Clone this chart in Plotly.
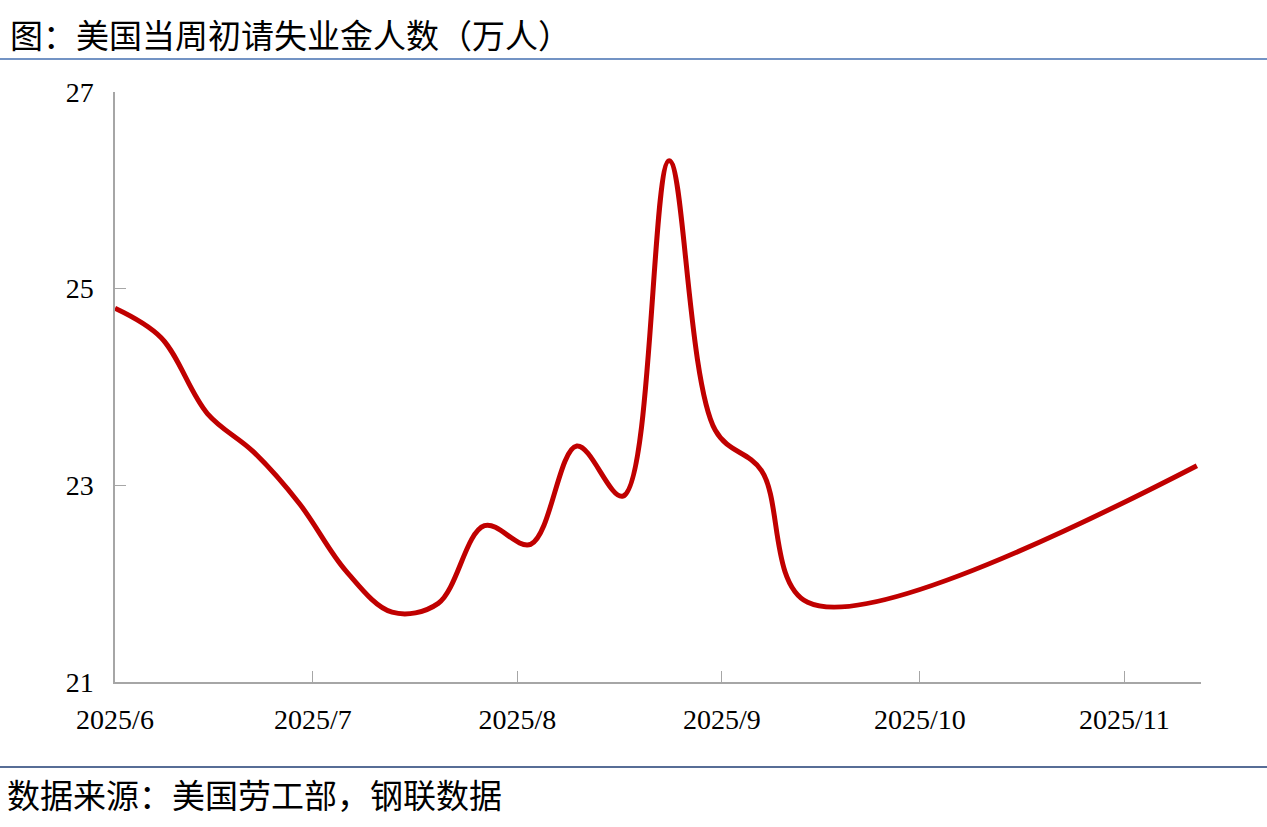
import plotly.graph_objects as go

# ---- data ----
dates = [
    "2025-06-01", "2025-06-08", "2025-06-15", "2025-06-22", "2025-06-29",
    "2025-07-06", "2025-07-13", "2025-07-20", "2025-07-27", "2025-08-03",
    "2025-08-10", "2025-08-17", "2025-08-24", "2025-08-31", "2025-09-07",
    "2025-09-14", "2025-11-12",
]
claims = [
    24.80, 24.50, 23.73, 23.34, 22.81,
    22.13, 21.71, 21.80, 22.59, 22.40,
    23.40, 22.89, 26.30, 23.56, 23.15,
    21.81, 23.20,
]
x_tick_dates = ["2025-06-01", "2025-07-01", "2025-08-01", "2025-09-01", "2025-10-01", "2025-11-01"]
x_tick_labels = ["2025/6", "2025/7", "2025/8", "2025/9", "2025/10", "2025/11"]
y_ticks = [21, 23, 25, 27]

title_text = "图：美国当周初请失业金人数（万人）"
source_text = "数据来源：美国劳工部，钢联数据"

# ---- layout geometry ----
W, H = 1267, 827
L, R, T, B = 115, 1201, 92, 682
pw, ph = R - L, B - T


def px_to_paper_x(px):
    return (px - L) / pw


def px_to_paper_y(py):
    return (B - py) / ph


fig = go.Figure()
fig.add_trace(go.Scatter(
    x=dates, y=claims, mode="lines",
    line=dict(color="#c00000", width=5, shape="spline", smoothing=1.0),
    showlegend=False, hoverinfo="skip",
))

axis_color = "#a6a6a6"
tick_font = dict(family="Liberation Serif, Times New Roman, serif", size=28, color="#000000")
cjk = "Noto Sans CJK SC"

fig.update_layout(
    width=W, height=H,
    margin=dict(l=L, r=W - R, t=T, b=H - B, pad=0),
    paper_bgcolor="#ffffff", plot_bgcolor="#ffffff",
    xaxis=dict(
        type="date",
        range=["2025-06-01", "2025-11-12 15:00"],
        tickvals=x_tick_dates, ticktext=x_tick_labels,
        ticks="inside", ticklen=11, tickcolor=axis_color, tickwidth=1,
        showline=True, linecolor=axis_color, linewidth=1.5,
        showgrid=False, zeroline=False,
        tickfont=tick_font, ticklabelstandoff=12,
    ),
    yaxis=dict(
        range=[21, 27], tickvals=y_ticks,
        ticks="inside", ticklen=11, tickcolor=axis_color, tickwidth=1,
        showline=True, linecolor=axis_color, linewidth=1.5,
        showgrid=False, zeroline=False,
        tickfont=tick_font, ticklabelstandoff=14,
    ),
    annotations=[
        dict(text=title_text, xref="paper", yref="paper",
             x=px_to_paper_x(8), y=px_to_paper_y(34),
             xanchor="left", yanchor="middle", showarrow=False,
             font=dict(family=cjk, size=33, color="#000000")),
        dict(text=source_text, xref="paper", yref="paper",
             x=px_to_paper_x(5), y=px_to_paper_y(794),
             xanchor="left", yanchor="middle", showarrow=False,
             font=dict(family=cjk, size=33, color="#000000")),
    ],
    shapes=[
        dict(type="line", xref="paper", yref="paper",
             x0=px_to_paper_x(0), x1=px_to_paper_x(W),
             y0=px_to_paper_y(59), y1=px_to_paper_y(59),
             line=dict(color="#7393c4", width=2)),
        dict(type="line", xref="paper", yref="paper",
             x0=px_to_paper_x(0), x1=px_to_paper_x(W),
             y0=px_to_paper_y(767), y1=px_to_paper_y(767),
             line=dict(color="#1f3c73", width=1.5)),
    ],
)

fig.write_html(
    "out.html",
    config={"displayModeBar": False},
    post_script="document.body.style.margin='0';document.body.style.padding='0';",
)
